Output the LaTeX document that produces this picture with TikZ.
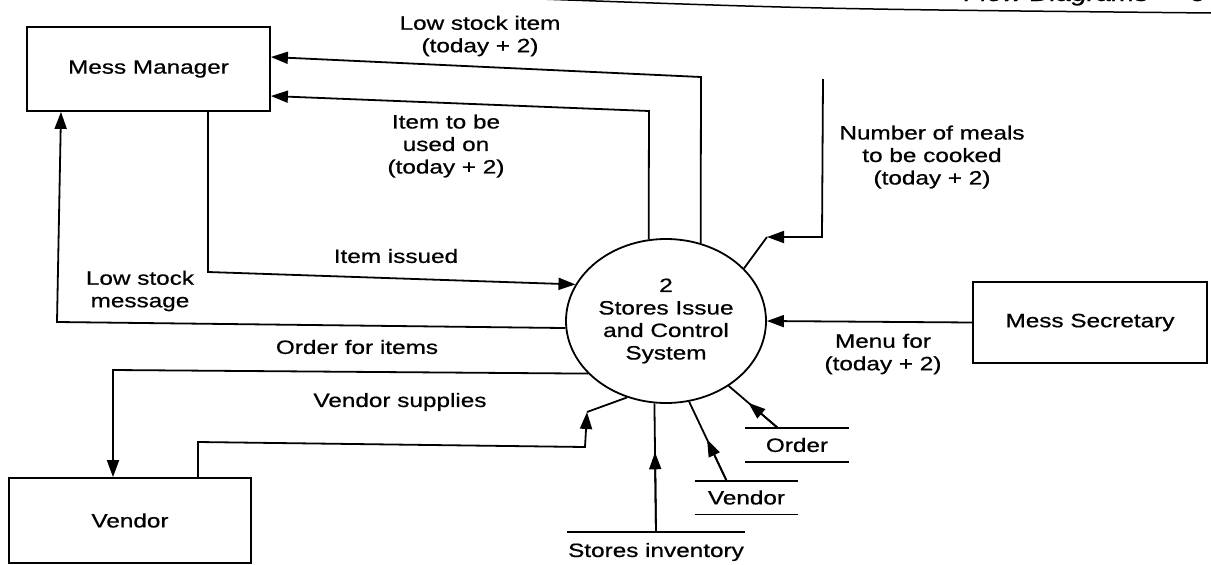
\documentclass[tikz,border=0pt]{standalone}
\usepackage{fontspec}
\setmainfont{Liberation Sans}[FakeStretch=1.26,FakeBold=0.7]
\usetikzlibrary{arrows.meta,shapes.geometric,calc}

\begin{document}
\begin{tikzpicture}[x=1pt,y=-1pt,
  font=\fontsize{19.3}{22.5}\selectfont,
  line width=1.8pt,
  entity/.style={draw, rectangle, inner sep=0pt},
  process/.style={draw, ellipse, inner sep=0pt, align=center,
    minimum width=200pt, minimum height=164pt},
  store/.style={inner sep=0pt, minimum width=102pt, minimum height=32pt},
  flow/.style={-{Triangle[length=17pt,width=12pt]}},
  lbl/.style={inner sep=0pt, align=center},
]
\useasboundingbox (0,0) rectangle (1211,565);
\begin{scope}
\clip (0,0) rectangle (1211,565);

% running head of the page
\draw[line width=1.5pt] (540,-1) .. controls (820,9) .. (1211,13);
\node[anchor=base east, font=\itshape\fontsize{22}{22}\selectfont] (head) at (1153,1) {Flow Diagrams};
\node[anchor=base west, font=\bfseries\fontsize{22}{22}\selectfont] (pgno) at (1186,1) {9};

% external entities
\node[entity, minimum width=243pt, minimum height=84pt] (mm) at (148.5,69) {Mess Manager};
\node[entity, minimum width=234pt, minimum height=81pt] (ms) at (1090,322.5) {Mess Secretary};
\node[entity, minimum width=242pt, minimum height=85pt] (vd) at (130,520.5) {Vendor};

% process
\node[process] (sys) at (666,321) {2\\Stores Issue\\and Control\\System};

% data stores
\node[store] (os) at (797,445) {Order};
\draw (os.north west) -- (os.north east) (os.south west) -- (os.south east);
\node[store] (vs) at (746.5,497.5) {Vendor};
\draw (vs.north west) -- (vs.north east) (vs.south west) -- (vs.south east);
\node[lbl, minimum width=164pt, minimum height=38pt] (si) at (656,552) {Stores inventory};
\draw (si.north west) -- (si.north east);

% flows to the Mess Manager
\draw[flow] (sys.66) -- (701,77) -- (mm.east |- 0,57);
\draw[flow] (sys.102) -- (649,111) -- (mm.east |- 0,96);
\draw[flow] (sys.184) -- (57,322) -- (mm.south -| 61,0);

% flow from the Mess Manager
\draw[flow] (mm.south -| 208,0) -- (208,272) -- (sys.158);

% flows with the Vendor
\draw[flow] (sys.214) -- (113,370) -- (vd.north -| 113,0);
\coordinate (vsbend) at (587,412);
\draw[flow] ([xshift=68pt]vd.north) -- (198,442) -- (585,447) -- (vsbend);
\draw (vsbend) -- (sys.243);

% meals to be cooked
\coordinate (mealsin) at (823,79);
\coordinate (mealsbend) at (767,237);
\draw[flow] (mealsin) -- (822,237) -- (mealsbend);
\draw (mealsbend) -- (sys.34);

% menu from the Mess Secretary
\draw[flow] (ms.west) -- (sys.east);

% reads from the data stores
\draw (si.north) -- (sys.262);
\draw[flow] (si.north) -- ($(si.north)!0.62!(sys.262)$);
\coordinate (vsout) at ([xshift=-20pt]vs.north);
\draw (vsout) -- (sys.286);
\draw[flow] (vsout) -- ($(vsout)!0.52!(sys.286)$);
\coordinate (osout) at ([xshift=-19pt]os.north);
\draw (osout) -- (sys.314);
\draw[flow] (osout) -- ($(osout)!0.6!(sys.314)$);

% flow labels
\node[lbl] (l1) at (480,36) {Low stock item\\(today + 2)};
\node[lbl] (l2) at (446,146) {Item to be\\used on\\(today + 2)};
\node[lbl] (l3) at (932,157) {Number of meals\\to be cooked\\(today + 2)};
\node[lbl] (l4) at (396,256) {Item issued};
\node[lbl] (l5) at (140,291) {Low stock\\message};
\node[lbl] (l6) at (357,347) {Order for items};
\node[lbl] (l7) at (400,402) {Vendor supplies};
\node[lbl] (l8) at (883,354) {Menu for\\(today + 2)};
\end{scope}
\end{tikzpicture}
\end{document}
